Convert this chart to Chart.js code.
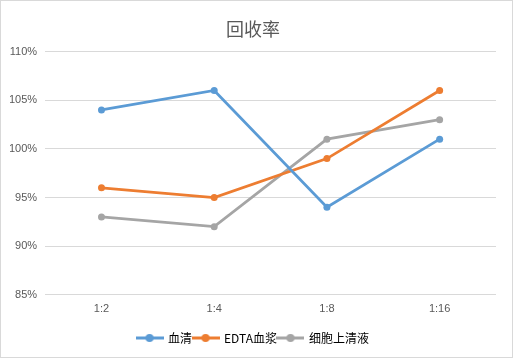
<!DOCTYPE html>
<html>
<head>
<meta charset="utf-8">
<script src="https://cdn.jsdelivr.net/npm/chart.js@4/dist/chart.umd.min.js"></script>
<style>
  html, body { margin: 0; padding: 0; background: #fff; }
  #box { width: 513px; height: 358px; box-sizing: border-box; border: 1px solid #d9d9d9; position: relative; }
  #wrap { width: 511px; height: 356px; }
</style>
</head>
<body>
<div id="box"><div id="wrap"><canvas id="recoveryChart"></canvas></div></div>
<script>
// chart data
var ratios = ["1:2", "1:4", "1:8", "1:16"];
var serum = [104, 106, 94, 101];
var edtaPlasma = [96, 95, 99, 106];
var cellSupernatant = [93, 92, 101, 103];
var seriesNames = ["血清", "EDTA血浆", "细胞上清液"];
var seriesColors = ["#5b9bd5", "#ed7d31", "#a5a5a5"];

var font = "'Noto Sans CJK SC', 'Liberation Sans', sans-serif";

//legend marker: short line with a dot in the middle
function legendMarker(color) {
    var c = document.createElement("canvas");
    c.width = 28;
    c.height = 10;
    var g = c.getContext("2d");
    g.strokeStyle = color;
    g.lineWidth = 3;
    g.beginPath();
    g.moveTo(0, 5);
    g.lineTo(28, 5);
    g.stroke();
    g.fillStyle = color;
    g.beginPath();
    g.arc(14, 5, 4, 0, Math.PI * 2);
    g.fill();
    return c;
}

function makeSet(i, values) {
    return {
        label: seriesNames[i],
        data: values,
        borderColor: seriesColors[i],
        backgroundColor: seriesColors[i],
        borderWidth: 2.75,
        pointRadius: 3.5,
        pointHoverRadius: 3.5,
        pointBorderWidth: 0,
        tension: 0,
        fill: false
    };
}

var ctx = document.getElementById("recoveryChart").getContext("2d");
var chart = new Chart(ctx, {
    type: "line",
    data: {
        labels: ratios,
        datasets: [
            makeSet(0, serum),
            makeSet(1, edtaPlasma),
            makeSet(2, cellSupernatant)
        ]
    },
    options: {
        responsive: true,
        maintainAspectRatio: false,
        animation: false,
        layout: { padding: { left: 9, right: 16, top: 7, bottom: 3 } },
        plugins: {
            title: {
                display: true,
                text: "回收率",
                color: "#595959",
                font: { family: font, size: 18, weight: "normal" },
                padding: { top: 10, bottom: 12 }
            },
            legend: {
                position: "bottom",
                labels: {
                    color: "#000",
                    font: { family: font, size: 12 },
                    usePointStyle: true,
                    pointStyleWidth: 25,
                    boxHeight: 10,
                    padding: 1,
                    generateLabels: function (chart) {
                        return chart.data.datasets.map(function (ds, i) {
                            return {
                                text: ds.label,
                                fillStyle: ds.borderColor,
                                strokeStyle: ds.borderColor,
                                fontColor: "#000",
                                pointStyle: legendMarker(ds.borderColor),
                                datasetIndex: i,
                                hidden: false,
                                lineWidth: 0
                            };
                        });
                    }
                }
            },
            tooltip: { enabled: false }
        },
        scales: {
            x: {
                offset: true,
                grid: { display: false },
                border: { display: false },
                ticks: { color: "#595959", font: { family: "'Liberation Sans', sans-serif", size: 11 }, padding: 0 },
                afterFit: function (scale) { scale.height += 15; }
            },
            y: {
                min: 85,
                max: 110,
                ticks: {
                    stepSize: 5,
                    color: "#595959",
                    font: { family: "'Liberation Sans', sans-serif", size: 11 },
                    padding: 8,
                    callback: function (v) { return v + "%"; }
                },
                grid: { color: "#d9d9d9", drawTicks: false },
                border: { display: false },
                afterFit: function (scale) { scale.width -= 9; }
            }
        }
    }
});
</script>
</body>
</html>
